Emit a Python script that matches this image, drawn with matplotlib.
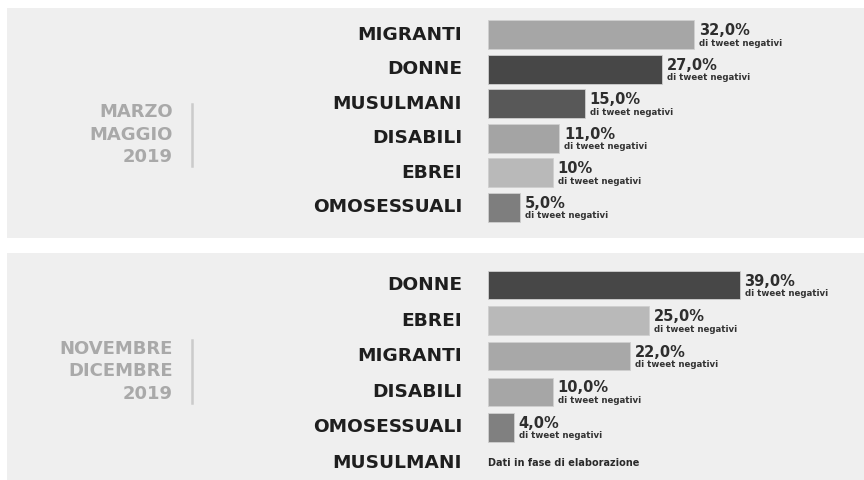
import matplotlib
matplotlib.use("Agg")
import matplotlib.pyplot as plt
from matplotlib.transforms import ScaledTranslation

cat_1 = ["MIGRANTI", "DONNE", "MUSULMANI", "DISABILI", "EBREI", "OMOSESSUALI"]
val_1 = [32.0, 27.0, 15.0, 11.0, 10.0, 5.0]
lab_1 = ["32,0%", "27,0%", "15,0%", "11,0%", "10%", "5,0%"]
col_1 = ["#a6a6a6", "#474747", "#585858", "#a4a4a4", "#b9b9b9", "#7e7e7e"]
period_1 = "MARZO\nMAGGIO\n2019"

cat_2 = ["DONNE", "EBREI", "MIGRANTI", "DISABILI", "OMOSESSUALI", "MUSULMANI"]
val_2 = [39.0, 25.0, 22.0, 10.0, 4.0, None]
lab_2 = ["39,0%", "25,0%", "22,0%", "10,0%", "4,0%", None]
col_2 = ["#474747", "#b9b9b9", "#a8a8a8", "#a6a6a6", "#808080", None]
period_2 = "NOVEMBRE\nDICEMBRE\n2019"
pending = "Dati in fase di elaborazione"
sub = "di tweet negativi"

plt.rcParams['font.family'] = ['DejaVu Sans']
W, H = 864, 480
fig = plt.figure(figsize=(8.64, 4.8), dpi=100)
fig.patch.set_facecolor("white")

px = 6.45  # pixel per punto percentuale
x0 = 488   # posizione dello zero in pixel


def off(ax, dx, dy):
    return ax.transData + ScaledTranslation(dx / 100, dy / 100, fig.dpi_scale_trans)


def panel(top, bottom, cats, vals, labs, cols, period, pitch, first, barh_, per_y, line):
    ax = fig.add_axes([7 / W, (H - bottom) / H, 1 - 7 / W, (bottom - top) / H])
    ax.set_facecolor("#efefef")
    ax.set_xlim(-(x0 - 7) / px, (W - x0) / px)
    y_top = -(first - top) / pitch
    ax.set_ylim(y_top + (bottom - top) / pitch, y_top)
    for s in ax.spines.values():
        s.set_visible(False)
    ax.set_xticks([])
    ax.set_yticks([])

    for i, (c, v, l, col) in enumerate(zip(cats, vals, labs, cols)):
        ax.text(0, i, c, transform=off(ax, -26, 0), ha="right", va="center",
                fontsize=13.3, fontweight="bold", color="#1e1e1e")
        if v is None:
            ax.text(0, i, pending, ha="left", va="center", fontsize=7,
                    fontweight="bold", color="#2a2a2a")
            continue
        ax.barh(i, v, height=barh_, color=col, edgecolor="#cfcfcf", linewidth=0.6)
        ax.text(v, i, l, transform=off(ax, 5, 4), ha="left", va="center",
                fontsize=10.5, fontweight="bold", color="#2e2e2e")
        ax.text(v, i, sub, transform=off(ax, 5, -8.5), ha="left", va="center",
                fontsize=6.2, fontweight="bold", color="#333333")

    ax.text((173 - 7) / (W - 7), per_y, period, transform=ax.transAxes,
            ha="right", va="center", multialignment="right", fontsize=13,
            fontweight="bold", color="#a9a9a9", linespacing=1.32)
    ax.axvline((192 - x0) / px, ymin=line[0], ymax=line[1], color="#cbcbcb", lw=1.8)
    return ax


panel(8, 238, cat_1, val_1, lab_1, col_1, period_1, 34.6, 34.5, 0.84, 0.45,
      ((238 - 166) / 230, (238 - 104) / 230))
panel(252.5, 480, cat_2, val_2, lab_2, col_2, period_2, 35.6, 285, 0.80, 0.477,
      ((480 - 403) / 227.5, (480 - 340) / 227.5))

fig.savefig("out.png", dpi=100, facecolor="white")
